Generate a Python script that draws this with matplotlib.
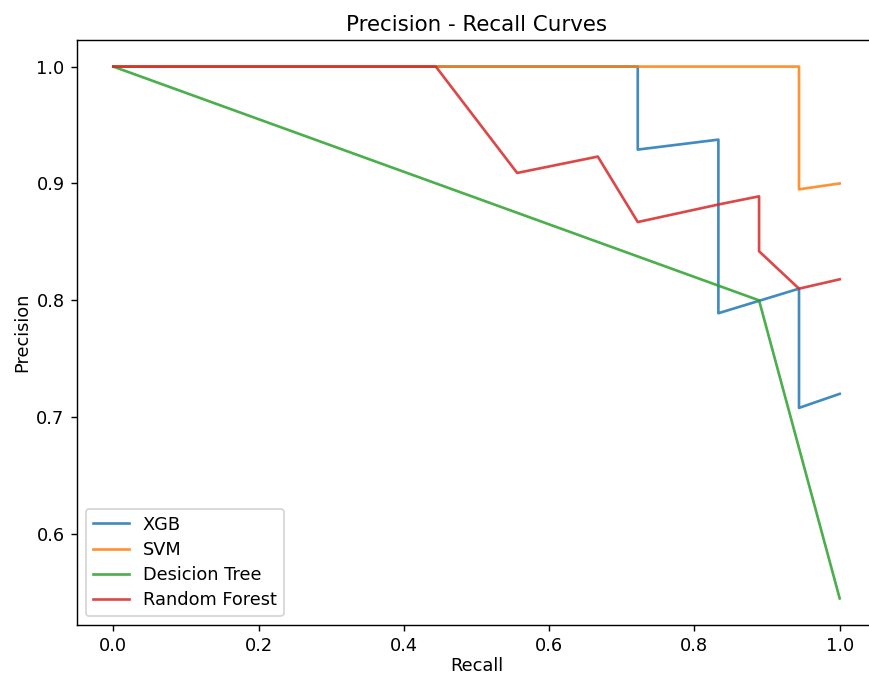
import matplotlib
matplotlib.use("Agg")
import matplotlib.pyplot as plt

# recall / precision pairs
xgb_recall = [0.0, 0.722, 0.722, 0.833, 0.833, 0.944, 0.944, 1.0]
xgb_precision = [1.0, 1.0, 0.929, 0.9375, 0.789, 0.810, 0.708, 0.72]

svm_recall = [0.0, 0.944, 0.944, 1.0]
svm_precision = [1.0, 1.0, 0.895, 0.90]

dt_recall = [0.0, 0.889, 1.0]
dt_precision = [1.0, 0.80, 0.545]

rf_recall = [0.0, 0.444, 0.556, 0.667, 0.722, 0.833, 0.889, 0.889, 0.944, 1.0]
rf_precision = [1.0, 1.0, 0.909, 0.923, 0.867, 0.882, 0.889, 0.842, 0.810, 0.818]

# the reference is an upscaled screenshot, so render at a higher dpi
DPI = 128
fig = plt.figure(figsize=(869 / DPI, 675 / DPI), dpi=DPI)
ax = fig.add_axes([77 / 869, 1 - 625 / 675, 799 / 869, 585 / 675])

ax.plot(xgb_recall, xgb_precision, label="XGB", alpha=0.85)
ax.plot(svm_recall, svm_precision, label="SVM", alpha=0.85)
ax.plot(dt_recall, dt_precision, label="Desicion Tree", alpha=0.85)
ax.plot(rf_recall, rf_precision, label="Random Forest", alpha=0.85)

ax.set_title("Precision - Recall Curves", pad=5)
ax.set_xlabel("Recall", labelpad=1)
ax.set_ylabel("Precision", labelpad=3)
ax.legend(loc="lower left", labelspacing=0.4)

fig.savefig("out.png", dpi=DPI)
